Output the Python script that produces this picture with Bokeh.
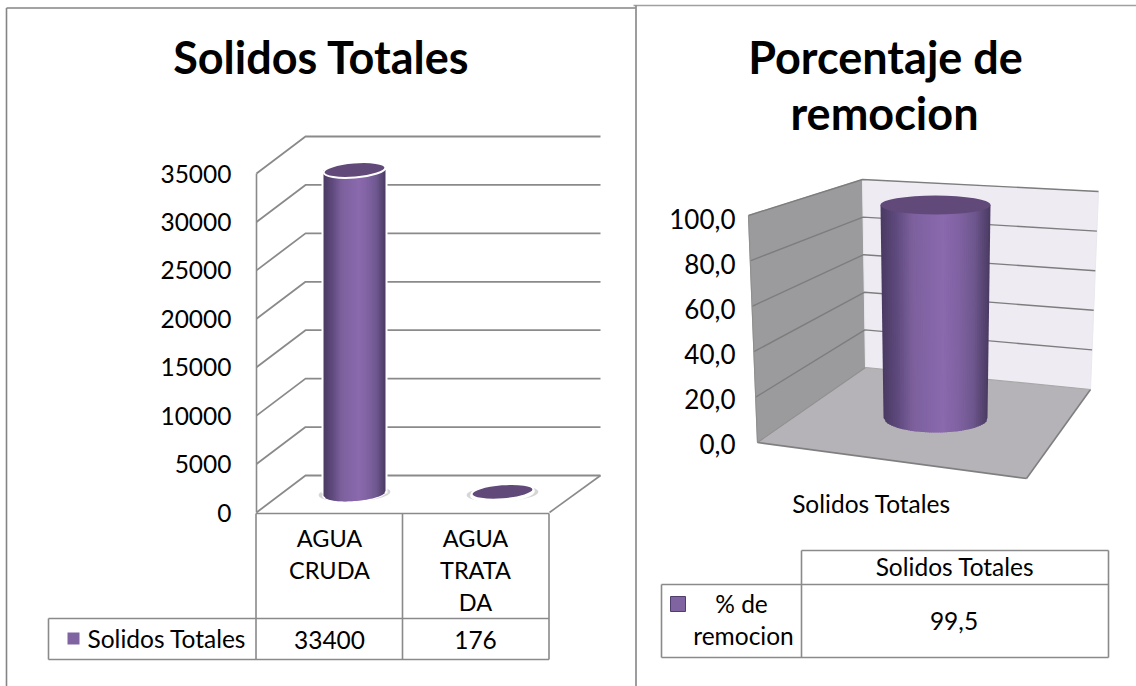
import math
from bokeh.plotting import figure
from bokeh.models import Range1d
from bokeh.core.properties import value
from bokeh.embed import file_html
from bokeh.resources import INLINE

# ---- data
categorias = [["AGUA", "CRUDA"], ["AGUA", "TRATA", "DA"]]
solidos = [33400, 176]
solidos_labels = ["33400", "176"]
serie1 = "Solidos Totales"
ticks1 = [0, 5000, 10000, 15000, 20000, 25000, 30000, 35000]
ticks2 = [0, 20, 40, 60, 80, 100]
ticks2_labels = ["0,0", "20,0", "40,0", "60,0", "80,0", "100,0"]
remocion = [99.5]
remocion_labels = ["99,5"]
serie2 = ["% de", "remocion"]
categoria2 = "Solidos Totales"

FONT = value("Lato")
GRID = "#8a8a8a"
W, H = 1136, 686
FS = 24.5
TS = 45

p = figure(width=W, height=H, output_backend="svg", toolbar_location=None,
           x_range=Range1d(0, W), y_range=Range1d(H, 0),
           x_axis_type=None, y_axis_type=None, min_border=0,
           outline_line_color=None, background_fill_color="white", border_fill_color="white")
p.grid.visible = False

# value scales, anchored on the screen position of the zero of each chart
Z1, K1 = 512.0, 339.0 / 35000
Z2, K2 = 443.5, 225.5 / 100
p.extra_y_ranges = {
    "solidos": Range1d((Z1 - H) / K1, Z1 / K1),
    "pct": Range1d((Z2 - H) / K2, Z2 / K2),
}

def txt(x, y, s, size, style="normal", align="center", color="#000000"):
    p.text([x], [y], text=[s], text_font=FONT, text_font_size=f"{size}px", text_font_style=style,
           text_align=align, text_baseline="middle", text_color=color)

def seg(x0, y0, x1, y1, color=GRID, w=1.6, **kw):
    p.line([x0, x1], [y0, y1], line_color=color, line_width=w, **kw)

def mix(stops, t):
    t = max(0, min(1, t)) * (len(stops) - 1)
    i = min(int(t), len(stops) - 2)
    f = t - i
    a, b = stops[i], stops[i + 1]
    return "#%02x%02x%02x" % tuple(round(a[k] + (b[k] - a[k]) * f) for k in range(3))

BAR = [(0x4a, 0x3a, 0x62), (0x5f, 0x4a, 0x7e), (0x7c, 0x60, 0x9c), (0x83, 0x65, 0xa6),
       (0x8a, 0x69, 0xad), (0x80, 0x62, 0xa3), (0x6e, 0x57, 0x8e), (0x4a, 0x3a, 0x62)]

def cylinder(cx, w, wb, hb, base_val, top_val, k, rng, tilt, n):
    """Vertical strips from the lower arc of the base to the top value."""
    for i in range(n):
        t0, t1 = -1 + 2 * i / n, -1 + 2 * (i + 1) / n
        over = 0 if i == n - 1 else 1.0
        xs = [cx + t0 * w / 2, cx + t1 * w / 2 + over]
        ys = [top_val, top_val]
        for t, extra in ((t1, over), (t0, 0)):
            xs.append(cx + t * wb / 2 + extra)
            arc = hb / 2 * math.sqrt(max(0, 1 - t * t))
            ys.append(base_val - (arc + tilt * -t * wb / 2) / k)
        c = mix(BAR, (t0 + t1) / 4 + 0.5)
        p.patch(xs, ys, fill_color=c, line_color=None, y_range_name=rng)

# ---------- panel frames
seg(6, 7.5, 635, 7.5, "#858585", 1.6)
seg(6, 7.5, 6, H, "#858585", 1.6)
seg(633, 5, W, 5, "#a0a0a0", 1.6)
seg(635.5, 5, 635.5, H, "#858585", 1.6)

# ---------- left chart
txt(321, 56.5, serie1, TS, "bold")
FX0, FX1, BX0, BX1, DY = 256, 549, 305, 600, 37
for v in ticks1:
    p.line([FX0, BX0, BX1], [v, v + DY / K1, v + DY / K1], line_color=GRID, line_width=1.8,
           y_range_name="solidos")
p.text([231] * len(ticks1), ticks1, text=[str(v) for v in ticks1], text_font=FONT,
       text_font_size=f"{FS}px", text_align="right", text_baseline="middle", y_range_name="solidos")
seg(FX0, Z1, FX0, Z1 - ticks1[-1] * K1)
seg(FX1, Z1, BX1, Z1 - DY)

# bars
cat_x = [329, 475]
bar_x = [354, 502]
depth_val = 19 / K1       # bars stand in the middle of the floor's depth
tilt = 0.08
bw, bh = 62, 15
for cx, s in zip(bar_x, solidos):
    top = s + depth_val
    base = depth_val
    p.ellipse([cx], [base], width=bw + 10, height=bh + 1, angle=0.05, width_units="screen",
              height_units="screen", fill_color="#c4c4c4", line_color=None, fill_alpha=0.7,
              y_range_name="solidos")
    if s > 1000:
        p.quad(left=[cx - 33], right=[cx + 33], bottom=[base], top=[top], fill_color="white",
               line_color=None, y_range_name="solidos")
    p.ellipse([cx], [base], width=bw + 3, height=bh + 3, angle=tilt, width_units="screen",
              height_units="screen", fill_color="white", line_color=None, y_range_name="solidos")
    if s > 1000:
        cylinder(cx, bw, bw, bh, base, top, K1, "solidos", tilt, 31)
    p.ellipse([cx], [top], width=bw, height=bh, angle=tilt, width_units="screen", height_units="screen",
              fill_color="#614a7a", line_color="white", line_width=2, y_range_name="solidos")

# data table
TX = [48, 255.5, 402, 548.5]
TY = [513, 618, 659]
seg(TX[0], TY[1], TX[3], TY[1])
seg(TX[0], TY[2], TX[3], TY[2])
seg(TX[0], TY[1], TX[0], TY[2])
for x in TX[1:]:
    seg(x, TY[0], x, TY[2])
seg(TX[1], TY[0], TX[3], TY[0])
for cx, lines, lab in zip(cat_x, categorias, solidos_labels):
    for i, s in enumerate(lines):
        txt(cx, 537.5 + i * 32, s, 23.5)
    txt(cx, 639.5, lab, FS)
p.quad(left=[67], right=[79], top=[632], bottom=[644], fill_color="#8064a2", line_color=None)
txt(87, 638, serie1, FS, align="left")

# ---------- right chart
txt(885, 56.5, "Porcentaje de", TS, "bold")
txt(884, 112.5, "remocion", TS, "bold")

fb, ft = (757, 442), (748, 215)      # front-left edge (0 .. 100)
bb, bt = (865, 367), (862, 179)      # back-left edge
rb, rt = (1090, 389), (1098, 191)    # back-right edge
cf = (1026, 478)                      # front-right floor corner

def lerp(a, b, f):
    return (a[0] + (b[0] - a[0]) * f, a[1] + (b[1] - a[1]) * f)

p.patch([ft[0], bt[0], bb[0], fb[0]], [ft[1], bt[1], bb[1], fb[1]], fill_color="#9b9b9d", line_color="#a8a8a8")
p.patch([bt[0], rt[0], rb[0], bb[0]], [bt[1], rt[1], rb[1], bb[1]], fill_color="#eeebf3", line_color="#e8e8ee")
p.patch([fb[0], bb[0], rb[0], cf[0]], [fb[1], bb[1], rb[1], cf[1]], fill_color="#b6b3b8", line_color=None)
G2 = "#7d7d7d"
for v in ticks2:
    f = v / 100
    a, b, c = lerp(fb, ft, f), lerp(bb, bt, f), lerp(rb, rt, f)
    if v > 0:
        p.line([a[0], b[0], c[0]], [a[1], b[1], c[1]], line_color=G2, line_width=1.4)
seg(fb[0], fb[1], cf[0], cf[1], "#7f7f7f", 1.6)
seg(cf[0], cf[1], rb[0], rb[1], "#7f7f7f", 1.6)
seg(fb[0], fb[1], ft[0], ft[1], "#8f8f8f", 1.2)
seg(fb[0], fb[1], bb[0], bb[1], "#8f8f8f", 1.2)
seg(bb[0], bb[1], rb[0], rb[1], "#a8a8a8", 1.2)

p.text([735] * len(ticks2), ticks2, text=ticks2_labels, text_font=FONT, text_font_size="26px",
       text_align="right", text_baseline="middle", y_range_name="pct")

# the bar stands further back, so its scale is a little shorter than the front edge's
bar_k = 213 / 99.5
cx2 = 935
base_pct = (Z2 - 417.5) / K2
top_pct = base_pct + remocion[0] * bar_k / K2
cylinder(cx2, 110, 104, 29, base_pct, top_pct, K2, "pct", 0, 55)
p.ellipse([cx2], [top_pct], width=110, height=19, width_units="screen", height_units="screen",
          fill_color="#614a7a", line_color=None, y_range_name="pct")

txt(871, 502.5, categoria2, FS)

# data table
RX = [661, 801, 1108]
RY = [550, 584, 657]
seg(RX[1], RY[0], RX[2], RY[0])
seg(RX[0], RY[1], RX[2], RY[1])
seg(RX[0], RY[2], RX[2], RY[2])
seg(RX[0], RY[1], RX[0], RY[2])
seg(RX[1], RY[0], RX[1], RY[2])
seg(RX[2], RY[0], RX[2], RY[2])
txt(954.5, 565.5, categoria2, FS)
txt(953.5, 620, remocion_labels[0], FS)
p.quad(left=[670], right=[685], top=[596], bottom=[611], fill_color="#8064a2", line_color="#4f3d6b", line_width=1)
txt(741, 603, serie2[0], FS)
txt(743, 635, serie2[1], FS)

open("out.html", "w").write(file_html(p, INLINE))
